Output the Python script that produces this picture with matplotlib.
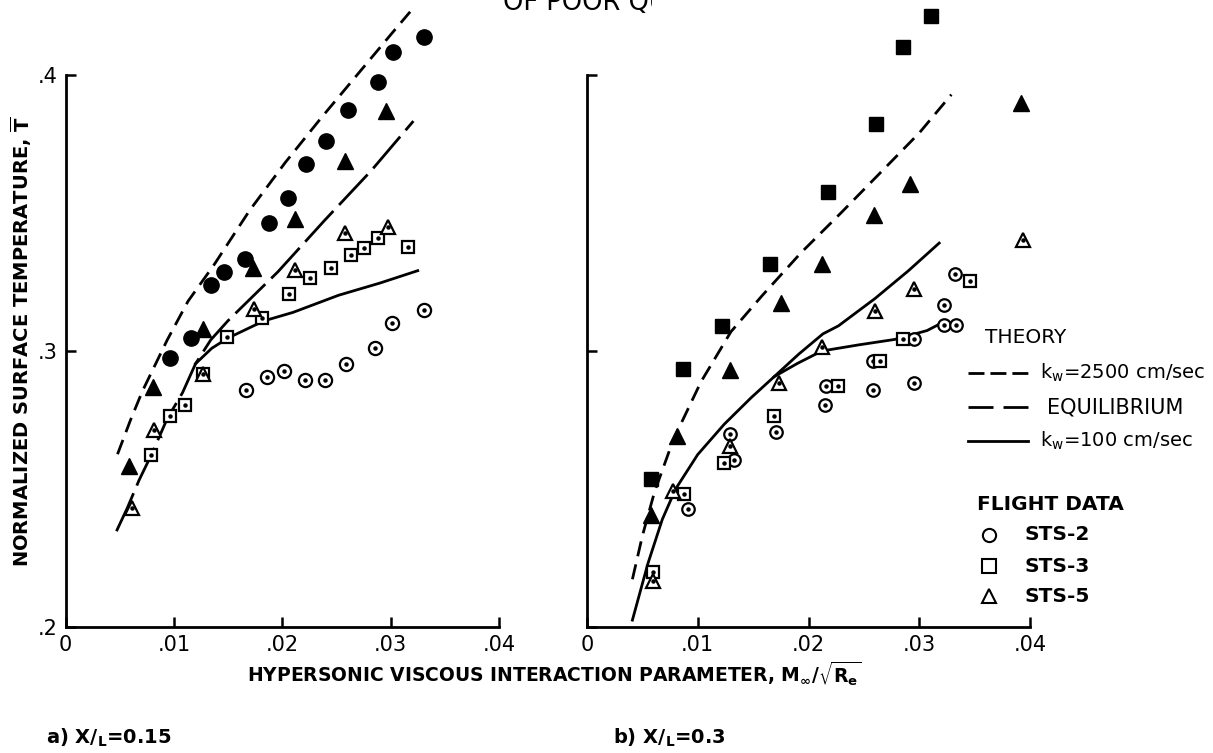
import matplotlib

matplotlib.use("Agg")
import matplotlib.pyplot as plt
from matplotlib.lines import Line2D
from matplotlib.transforms import Bbox

WIDTH, HEIGHT, DPI = 1213, 753, 100

# axis layout (pixels)
Y_MIN = 0.2
Y_TOP = 0.2 + 627 / 2760
X_TICKS = [0, 0.01, 0.02, 0.03, 0.04]
X_TICK_LABELS = ["0", ".01", ".02", ".03", ".04"]
Y_TICKS = [0.2, 0.3, 0.4]
Y_TICK_LABELS = [".2", ".3", ".4"]

# ---- a) X/L = 0.15 ----
LEFT_STS2_X = [0.0167, 0.0186, 0.0202, 0.0221, 0.0239, 0.0259, 0.0286, 0.0301, 0.0331]
LEFT_STS2_Y = [0.2859, 0.2905, 0.2927, 0.2896, 0.2895, 0.2952, 0.3012, 0.3103, 0.3150]
LEFT_STS3_X = [0.0079, 0.0096, 0.0110, 0.0127, 0.0149, 0.0181, 0.0206, 0.0226, 0.0245,
               0.0263, 0.0275, 0.0288, 0.0316]
LEFT_STS3_Y = [0.2622, 0.2765, 0.2805, 0.2915, 0.3050, 0.3119, 0.3208, 0.3263, 0.3300,
               0.3347, 0.3374, 0.3408, 0.3378]
LEFT_STS5_X = [0.0061, 0.0082, 0.0127, 0.0174, 0.0212, 0.0258, 0.0298]
LEFT_STS5_Y = [0.2431, 0.2713, 0.2917, 0.3151, 0.3294, 0.3426, 0.3451]
LEFT_FILLED_CIRCLE_X = [0.0096, 0.0116, 0.0134, 0.0146, 0.0166, 0.0188, 0.0205, 0.0222,
                        0.0240, 0.0261, 0.0288, 0.0302, 0.0331]
LEFT_FILLED_CIRCLE_Y = [0.2976, 0.3047, 0.3238, 0.3287, 0.3335, 0.3465, 0.3554, 0.3678,
                        0.3762, 0.3874, 0.3975, 0.4083, 0.4139]
LEFT_FILLED_TRI_X = [0.0059, 0.0081, 0.0127, 0.0173, 0.0212, 0.0258, 0.0296]
LEFT_FILLED_TRI_Y = [0.2585, 0.2870, 0.3078, 0.3300, 0.3480, 0.3687, 0.3870]

LEFT_KW2500_X = [0.0048, 0.0060, 0.0071, 0.0094, 0.0113, 0.0137, 0.0170, 0.0203, 0.0236,
                 0.0269, 0.0302, 0.0318]
LEFT_KW2500_Y = [0.2626, 0.2750, 0.2855, 0.3041, 0.3180, 0.3312, 0.3510, 0.3684, 0.3845,
                 0.4000, 0.4155, 0.4229]
LEFT_EQUIL_X = [0.0047, 0.0057, 0.0068, 0.0079, 0.0094, 0.0108, 0.0120, 0.0134, 0.0150,
                0.0196, 0.0239, 0.0282, 0.0321]
LEFT_EQUIL_Y = [0.2347, 0.2431, 0.2533, 0.2622, 0.2756, 0.2849, 0.2954, 0.3040, 0.3110,
                0.3287, 0.3473, 0.3653, 0.3833]
LEFT_KW100_X = [0.0120, 0.0135, 0.0150, 0.0183, 0.0210, 0.0252, 0.0290, 0.0325]
LEFT_KW100_Y = [0.2954, 0.3010, 0.3047, 0.3109, 0.3140, 0.3202, 0.3246, 0.3291]

# ---- b) X/L = 0.3 ----
RIGHT_STS2_X = [0.0091, 0.0129, 0.0133, 0.0171, 0.0215, 0.0216, 0.0258, 0.0258, 0.0295,
                0.0295, 0.0322, 0.0333, 0.0322, 0.0332]
RIGHT_STS2_Y = [0.2426, 0.2701, 0.2605, 0.2707, 0.2805, 0.2874, 0.2858, 0.2963, 0.2885,
                0.3043, 0.3093, 0.3095, 0.3168, 0.3280]
RIGHT_STS3_X = [0.0060, 0.0088, 0.0124, 0.0169, 0.0227, 0.0265, 0.0285, 0.0346]
RIGHT_STS3_Y = [0.2198, 0.2481, 0.2593, 0.2765, 0.2874, 0.2963, 0.3043, 0.3255]
RIGHT_STS5_X = [0.0060, 0.0078, 0.0129, 0.0173, 0.0212, 0.0260, 0.0295, 0.0394]
RIGHT_STS5_Y = [0.2167, 0.2494, 0.2657, 0.2883, 0.3015, 0.3145, 0.3224, 0.3401]
RIGHT_FILLED_SQUARE_X = [0.0058, 0.0087, 0.0122, 0.0165, 0.0218, 0.0261, 0.0285, 0.0311]
RIGHT_FILLED_SQUARE_Y = [0.2537, 0.2936, 0.3089, 0.3317, 0.3575, 0.3824, 0.4103, 0.4215]
RIGHT_FILLED_TRI_X = [0.0058, 0.0081, 0.0129, 0.0175, 0.0212, 0.0259, 0.0292, 0.0392]
RIGHT_FILLED_TRI_Y = [0.2407, 0.2691, 0.2932, 0.3175, 0.3314, 0.3492, 0.3606, 0.3898]

RIGHT_KW2500_X = [0.0041, 0.0050, 0.0061, 0.0078, 0.0103, 0.0130, 0.0158, 0.0193, 0.0228,
                  0.0261, 0.0300, 0.0329]
RIGHT_KW2500_Y = [0.2173, 0.2330, 0.2490, 0.2679, 0.2889, 0.3070, 0.3200, 0.3355, 0.3495,
                  0.3630, 0.3790, 0.3929]
RIGHT_KW100_X = [0.0041, 0.0055, 0.0068, 0.0080, 0.0100, 0.0124, 0.0148, 0.0169, 0.0190,
                 0.0212, 0.0245, 0.0278, 0.0307, 0.0320]
RIGHT_KW100_Y = [0.2025, 0.2230, 0.2390, 0.2500, 0.2625, 0.2735, 0.2830, 0.2907, 0.2955,
                 0.3000, 0.3022, 0.3042, 0.3074, 0.3101]
RIGHT_EQUIL_X = [0.0169, 0.0191, 0.0213, 0.0227, 0.0260, 0.0290, 0.0318]
RIGHT_EQUIL_Y = [0.2907, 0.2988, 0.3062, 0.3091, 0.3190, 0.3290, 0.3391]

THEORY_LABELS = [r"k$_w$=2500 cm/sec", "EQUILIBRIUM", r"k$_w$=100 cm/sec"]
FLIGHT_LABELS = ["STS-2", "STS-3", "STS-5"]

SHORT_DASH = (0, (11, 6))
LONG_DASH = (0, (30, 6))


def fx(px: float) -> float:
    return px / WIDTH


def fy(py: float) -> float:
    return 1 - py / HEIGHT


def _style_axes(ax, show_y_labels: bool) -> None:
    ax.set_xlim(0, 0.04)
    ax.set_ylim(Y_MIN, Y_TOP)
    ax.patch.set_alpha(0)
    for side in ("top", "right"):
        ax.spines[side].set_visible(False)
    for side in ("left", "bottom"):
        ax.spines[side].set_linewidth(2)
    ax.spines["left"].set_bounds(0.2, 0.4)
    ax.spines["bottom"].set_bounds(0, 0.04)
    ax.set_xticks(X_TICKS, X_TICK_LABELS)
    ax.set_yticks(Y_TICKS, Y_TICK_LABELS if show_y_labels else [])
    ax.tick_params(direction="in", length=7, width=1.8, labelsize=15, pad=6)


def _open(ax, x, y, marker, size):
    ax.plot(x, y, linestyle="none", marker=marker, markersize=size, markerfacecolor="white",
            markeredgecolor="black", markeredgewidth=1.6, clip_on=False)
    ax.plot(x, y, linestyle="none", marker="o", markersize=2.2, color="black", clip_on=False)


def _filled(ax, x, y, marker, size):
    ax.plot(x, y, linestyle="none", marker=marker, markersize=size, color="black", clip_on=False)


def _plot_left(ax) -> None:
    ax.plot(LEFT_KW2500_X, LEFT_KW2500_Y, color="black", lw=2, linestyle=SHORT_DASH)
    ax.plot(LEFT_EQUIL_X, LEFT_EQUIL_Y, color="black", lw=2, linestyle=LONG_DASH)
    ax.plot(LEFT_KW100_X, LEFT_KW100_Y, color="black", lw=2)
    _filled(ax, LEFT_FILLED_CIRCLE_X, LEFT_FILLED_CIRCLE_Y, "o", 11)
    _filled(ax, LEFT_FILLED_TRI_X, LEFT_FILLED_TRI_Y, "^", 11)
    _open(ax, LEFT_STS2_X, LEFT_STS2_Y, "o", 9.5)
    _open(ax, LEFT_STS3_X, LEFT_STS3_Y, "s", 9)
    _open(ax, LEFT_STS5_X, LEFT_STS5_Y, "^", 10)
    _style_axes(ax, True)


def _plot_right(ax) -> None:
    ax.plot(RIGHT_KW2500_X, RIGHT_KW2500_Y, color="black", lw=2, linestyle=SHORT_DASH)
    ax.plot(RIGHT_KW100_X, RIGHT_KW100_Y, color="black", lw=2)
    ax.plot(RIGHT_EQUIL_X, RIGHT_EQUIL_Y, color="black", lw=2)
    _filled(ax, RIGHT_FILLED_SQUARE_X, RIGHT_FILLED_SQUARE_Y, "s", 10)
    _filled(ax, RIGHT_FILLED_TRI_X, RIGHT_FILLED_TRI_Y, "^", 11)
    _open(ax, RIGHT_STS2_X, RIGHT_STS2_Y, "o", 9)
    _open(ax, RIGHT_STS3_X, RIGHT_STS3_Y, "s", 8.5)
    _open(ax, RIGHT_STS5_X, RIGHT_STS5_Y, "^", 9.5)
    _style_axes(ax, False)


def _draw_legend(fig) -> None:
    fig.text(fx(985), fy(337), "THEORY", fontsize=14.5, va="center")
    styles = [(0, (11.5, 4.3)), (0, (18, 7.2)), "solid"]
    text_x = [1040, 1047, 1040]
    sizes = [14, 15, 14]
    for py, style, label, tx, size in zip([373, 407, 441], styles, THEORY_LABELS, text_x, sizes):
        fig.add_artist(Line2D([fx(968), fx(1028)], [fy(py), fy(py)], transform=fig.transFigure,
                              color="black", lw=2, linestyle=style))
        fig.text(fx(tx), fy(py), label, fontsize=size, va="center")

    fig.text(fx(977), fy(504), "FLIGHT DATA", fontsize=14.5, fontweight="bold", va="center")
    for py, marker, label in zip([535, 566, 596], ["o", "s", "^"], FLIGHT_LABELS):
        fig.add_artist(Line2D([fx(989)], [fy(py)], transform=fig.transFigure, linestyle="none",
                              marker=marker, markersize=9.5, markerfacecolor="white",
                              markeredgecolor="black", markeredgewidth=1.5))
        fig.text(fx(1025), fy(py), label, fontsize=14.5, fontweight="bold", va="center")


def main() -> None:
    plt.rcParams["font.family"] = ["DejaVu Sans"]
    plt.rcParams["mathtext.default"] = "regular"
    plt.rcParams["lines.scale_dashes"] = False

    fig = plt.figure(figsize=(WIDTH / DPI, HEIGHT / DPI), dpi=DPI)
    ax_left = fig.add_axes([fx(65.5), fy(627), (499 - 65.5) / WIDTH, 627 / HEIGHT])
    ax_right = fig.add_axes([fx(587), fy(627), (1030 - 587) / WIDTH, 627 / HEIGHT])
    _plot_left(ax_left)
    _plot_right(ax_right)
    _draw_legend(fig)

    fig.text(fx(21), fy(342), r"NORMALIZED SURFACE TEMPERATURE, $\overline{T}$",
             rotation=90, fontsize=14, fontweight="bold", ha="center", va="center")
    fig.text(fx(554), fy(682),
             r"HYPERSONIC VISCOUS INTERACTION PARAMETER, $M_{\infty}/\sqrt{R_e}$",
             fontsize=13.5, fontweight="bold", ha="center", va="baseline")
    fig.text(fx(46), fy(744), r"a) X/$_L$=0.15", fontsize=14, fontweight="bold", va="baseline")
    fig.text(fx(613), fy(744), r"b) X/$_L$=0.3", fontsize=14, fontweight="bold", va="baseline")

    header = fig.text(fx(503), fy(10), "OF POOR QUALITY", fontsize=18.5, va="baseline")
    header.set_clip_box(Bbox.from_extents(0, 0, 652, HEIGHT))
    header.set_clip_on(True)

    fig.savefig("out.png", dpi=DPI)
    plt.close(fig)


if __name__ == "__main__":
    main()
